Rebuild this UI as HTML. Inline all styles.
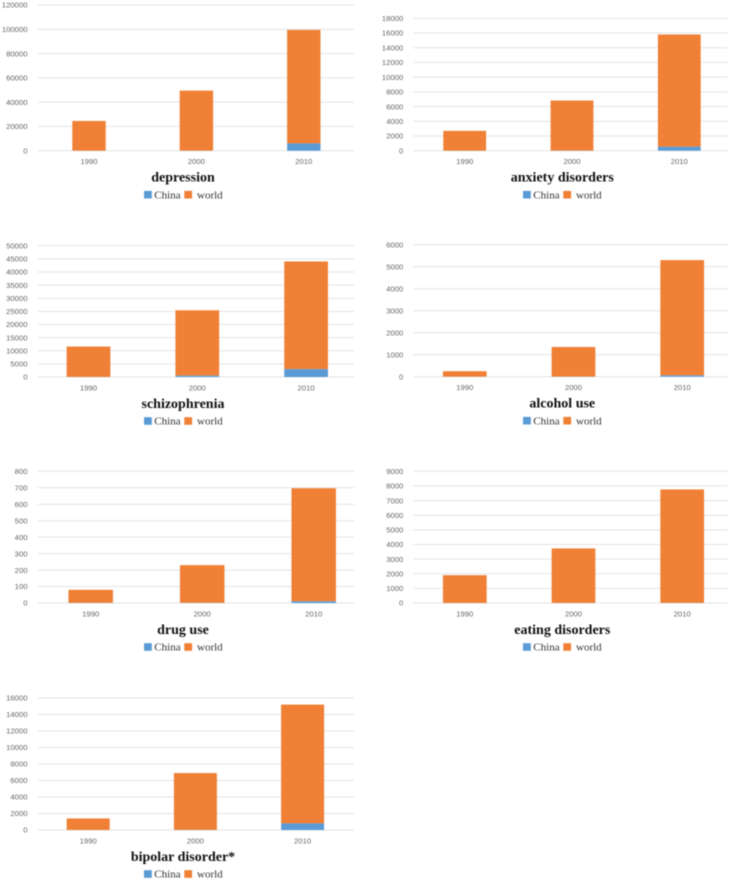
<!DOCTYPE html>
<html lang="en">
<head>
<meta charset="utf-8">
<title>Mental disorder charts: China and world, 1990-2010</title>
<style>
  html, body { margin: 0; padding: 0; background: #ffffff; }
  body { width: 730px; height: 884px; overflow: hidden; }
  #figure { display: block; width: 730px; height: 884px; filter: blur(0.4px); }
  .tick { font: 7.7px "Liberation Sans", sans-serif; fill: #666666; }
  .title { font: bold 14px "Liberation Serif", serif; fill: #111111; text-anchor: middle; }
  .legend-text { font: 11px "Liberation Serif", serif; fill: #333333; }
</style>
</head>
<body>
<svg id="figure" xmlns="http://www.w3.org/2000/svg" width="730" height="884" viewBox="0 0 730 884"></svg>
<script>
// Data
const categories = ['1990', '2000', '2010'];

const depressionTicks = [0, 20000, 40000, 60000, 80000, 100000, 120000];
const depressionChina = [20, 60, 6000];
const depressionWorld = [24480, 49440, 93500];

const anxietyTicks = [0, 2000, 4000, 6000, 8000, 10000, 12000, 14000, 16000, 18000];
const anxietyChina = [5, 15, 550];
const anxietyWorld = [2695, 6805, 15250];

const schizophreniaTicks = [0, 5000, 10000, 15000, 20000, 25000, 30000, 35000, 40000, 45000, 50000];
const schizophreniaChina = [30, 500, 3000];
const schizophreniaWorld = [11570, 24900, 41000];

const alcoholTicks = [0, 1000, 2000, 3000, 4000, 5000, 6000];
const alcoholChina = [2, 5, 60];
const alcoholWorld = [248, 1345, 5240];

const drugTicks = [0, 100, 200, 300, 400, 500, 600, 700, 800];
const drugChina = [0.5, 1, 10];
const drugWorld = [79.5, 229, 687];

const eatingTicks = [0, 1000, 2000, 3000, 4000, 5000, 6000, 7000, 8000, 9000];
const eatingChina = [2, 4, 6];
const eatingWorld = [1898, 3726, 7754];

const bipolarTicks = [0, 2000, 4000, 6000, 8000, 10000, 12000, 14000, 16000];
const bipolarChina = [5, 15, 800];
const bipolarWorld = [1395, 6885, 14400];

// Chart definitions (layout is kept apart from the data)
const charts = [
  { slug: 'depression', title: 'depression', ticks: depressionTicks, china: depressionChina, world: depressionWorld,
    left: 37.7, right: 354, top: 5, zero: 150.7, firstCenter: 89, step: 107.4, barWidth: 33.4, labelX: 27.5, titleX: 183, legendX: 144 },
  { slug: 'anxiety-disorders', title: 'anxiety disorders', ticks: anxietyTicks, china: anxietyChina, world: anxietyWorld,
    left: 413.3, right: 727.7, top: 18.3, zero: 150.7, firstCenter: 464.7, step: 107.3, barWidth: 42.8, labelX: 403.3, titleX: 562.3, legendX: 523 },
  { slug: 'schizophrenia', title: 'schizophrenia', ticks: schizophreniaTicks, china: schizophreniaChina, world: schizophreniaWorld,
    left: 37.7, right: 354, top: 245.7, zero: 377, firstCenter: 88.5, step: 108.8, barWidth: 43.7, labelX: 27.5, titleX: 183, legendX: 144 },
  { slug: 'alcohol-use', title: 'alcohol use', ticks: alcoholTicks, china: alcoholChina, world: alcoholWorld,
    left: 413.3, right: 727.7, top: 244.7, zero: 376.7, firstCenter: 464.8, step: 108.7, barWidth: 43.7, labelX: 403.3, titleX: 562.3, legendX: 523 },
  { slug: 'drug-use', title: 'drug use', ticks: drugTicks, china: drugChina, world: drugWorld,
    left: 37.7, right: 354, top: 471.3, zero: 603, firstCenter: 90.7, step: 111.5, barWidth: 44.5, labelX: 27.5, titleX: 183, legendX: 144 },
  { slug: 'eating-disorders', title: 'eating disorders', ticks: eatingTicks, china: eatingChina, world: eatingWorld,
    left: 413.3, right: 727.7, top: 471.3, zero: 603, firstCenter: 464.8, step: 108.7, barWidth: 43.7, labelX: 403.3, titleX: 562.3, legendX: 523 },
  { slug: 'bipolar-disorder', title: 'bipolar disorder*', ticks: bipolarTicks, china: bipolarChina, world: bipolarWorld,
    left: 37.7, right: 354, top: 698, zero: 830, firstCenter: 88.2, step: 107.2, barWidth: 43, labelX: 27.5, titleX: 183, legendX: 144 }
];

const SVG_NS = 'http://www.w3.org/2000/svg';
const figure = document.getElementById('figure');

function make(parent, tag, attrs, text) {
  const node = document.createElementNS(SVG_NS, tag);
  for (const key in attrs) node.setAttribute(key, attrs[key]);
  if (text !== undefined) node.textContent = text;
  parent.appendChild(node);
  return node;
}

charts.forEach(function (c) {
  const maxTick = c.ticks[c.ticks.length - 1];
  const yScale = function (v) { return c.zero - (v / maxTick) * (c.zero - c.top); };
  const xCenter = function (i) { return c.firstCenter + c.step * i; };

  const group = make(figure, 'g', {});
  
  

  // Gridlines and y tick labels
  c.ticks.forEach(function (t) {
    const y = yScale(t);
    const grid = make(group, 'line', { x1: c.left, x2: c.right, y1: y, y2: y, stroke: '#e3e3e3', 'stroke-width': 1 });
    
    
    const label = make(group, 'text', { class: 'tick', x: c.labelX, y: y + 2.7, 'text-anchor': 'end' }, String(t));
    
    
  });

  // Stacked bars and x tick labels
  categories.forEach(function (cat, i) {
    const x = xCenter(i) - c.barWidth / 2;
    const chinaTop = yScale(c.china[i]);
    const worldTop = yScale(c.china[i] + c.world[i]);

    const worldBar = make(group, 'rect', { x: x, y: worldTop, width: c.barWidth, height: chinaTop - worldTop, fill: '#f08035' });
    
    

    const chinaBar = make(group, 'rect', { x: x, y: chinaTop, width: c.barWidth, height: c.zero - chinaTop, fill: '#5b9bd5' });
    
    

    const xLabel = make(group, 'text', { class: 'tick', x: xCenter(i), y: c.zero + 13.5, 'text-anchor': 'middle' }, cat);
    
    
  });

  // Title
  const title = make(group, 'text', { class: 'title', x: c.titleX, y: c.zero + 31 }, c.title);
  
  

  // Legend
  const legendTop = c.zero + 40.2;
  const chinaSwatch = make(group, 'rect', { x: c.legendX, y: legendTop, width: 7.8, height: 7.6, fill: '#5b9bd5' });
  
  
  const chinaText = make(group, 'text', { class: 'legend-text', x: c.legendX + 10.3, y: legendTop + 7.4 }, 'China');
  
  
  const worldSwatch = make(group, 'rect', { x: c.legendX + 40.3, y: legendTop, width: 7.8, height: 7.6, fill: '#f08035' });
  
  
  const worldText = make(group, 'text', { class: 'legend-text', x: c.legendX + 53, y: legendTop + 7.4 }, 'world');
  
  
});
</script>
</body>
</html>
